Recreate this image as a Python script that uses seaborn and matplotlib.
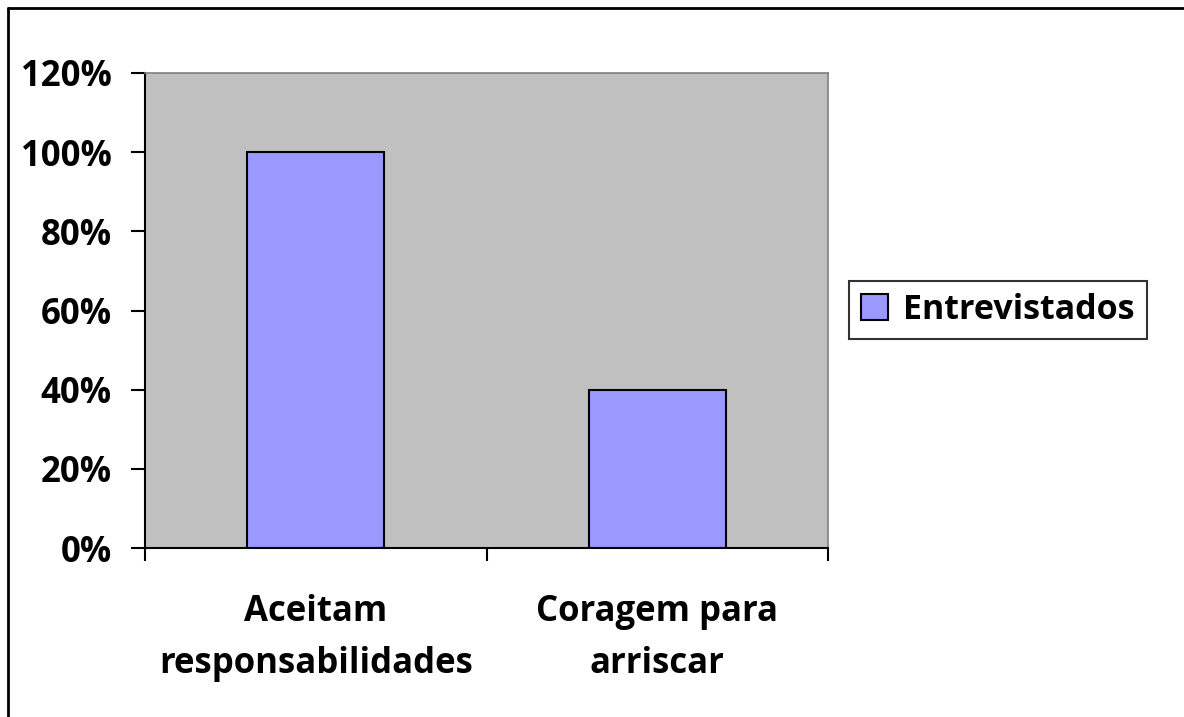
import matplotlib
matplotlib.use("Agg")
import matplotlib.pyplot as plt
import matplotlib.lines as mlines
import numpy as np
import pandas as pd
import seaborn as sns

categories = ["Aceitam\nresponsabilidades", "Coragem para\narriscar"]
values = [1.00, 0.40]
series_name = "Entrevistados"
y_ticks = [0.0, 0.2, 0.4, 0.6, 0.8, 1.0, 1.2]
y_tick_labels = ["0%", "20%", "40%", "60%", "80%", "100%", "120%"]

sns.set_style("white")
plt.rcParams["font.family"] = ["Open Sans", "DejaVu Sans"]
plt.rcParams["font.weight"] = "bold"
plt.rcParams["text.color"] = "black"
plt.rcParams["xtick.color"] = "black"
plt.rcParams["ytick.color"] = "black"
plt.rcParams["xtick.labelcolor"] = "black"
plt.rcParams["ytick.labelcolor"] = "black"

df = pd.DataFrame({"categoria": categories, "valor": values, "serie": series_name})

fig = plt.figure(figsize=(11.84, 7.17), dpi=100)
ax = fig.add_axes([145 / 1184, 1 - 548 / 717, 683 / 1184, 475 / 717])

sns.barplot(data=df, x="categoria", y="valor", hue="serie", palette=["#9999FF"],
            width=0.4, edgecolor="black", linewidth=1.5, saturation=1, ax=ax)

ax.set_facecolor("#C0C0C0")
ax.set_xlim(-0.5, 1.5)
ax.set_ylim(0, 1.2)
ax.set_xlabel("")
ax.set_ylabel("")

ax.set_yticks(y_ticks)
ax.set_yticklabels(y_tick_labels, fontsize=25, fontweight="bold", color="black")
ax.tick_params(axis="y", direction="out", length=10, width=1.5, color="black", pad=14, left=True)

ax.set_xticks(range(len(categories)))
ax.set_xticklabels(categories, fontsize=25, fontweight="bold", color="black", linespacing=1.6)
ax.set_xticks([-0.5, 0.5, 1.5], minor=True)
ax.tick_params(axis="x", which="major", length=0, pad=33)
ax.tick_params(axis="x", which="minor", direction="out", length=9.5, width=1.5, color="black", bottom=True)

for side in ["left", "bottom"]:
    ax.spines[side].set_color("black")
    ax.spines[side].set_linewidth(1.5)
for side in ["top", "right"]:
    ax.spines[side].set_color("#808080")
    ax.spines[side].set_linewidth(1.2)

leg = ax.legend(loc="center left", bbox_to_anchor=(849 / 1184, 1 - 310 / 717),
                bbox_transform=fig.transFigure, frameon=True, fancybox=False,
                borderaxespad=0, handlelength=0.8, handleheight=0.8, handletextpad=0.45,
                borderpad=0.35, prop={"size": 24.5, "weight": "bold"})
leg.get_frame().set_edgecolor("black")
leg.get_frame().set_linewidth(1.5)
for t in leg.get_texts():
    t.set_color("black")

# outer chart border (top and left visible)
fig.add_artist(mlines.Line2D([8 / 1184, 8 / 1184], [0, 1 - 8 / 717], color="black",
                             linewidth=2, transform=fig.transFigure))
fig.add_artist(mlines.Line2D([8 / 1184, 1], [1 - 8 / 717, 1 - 8 / 717], color="black",
                             linewidth=2, transform=fig.transFigure))

fig.savefig("out.png", dpi=100)
